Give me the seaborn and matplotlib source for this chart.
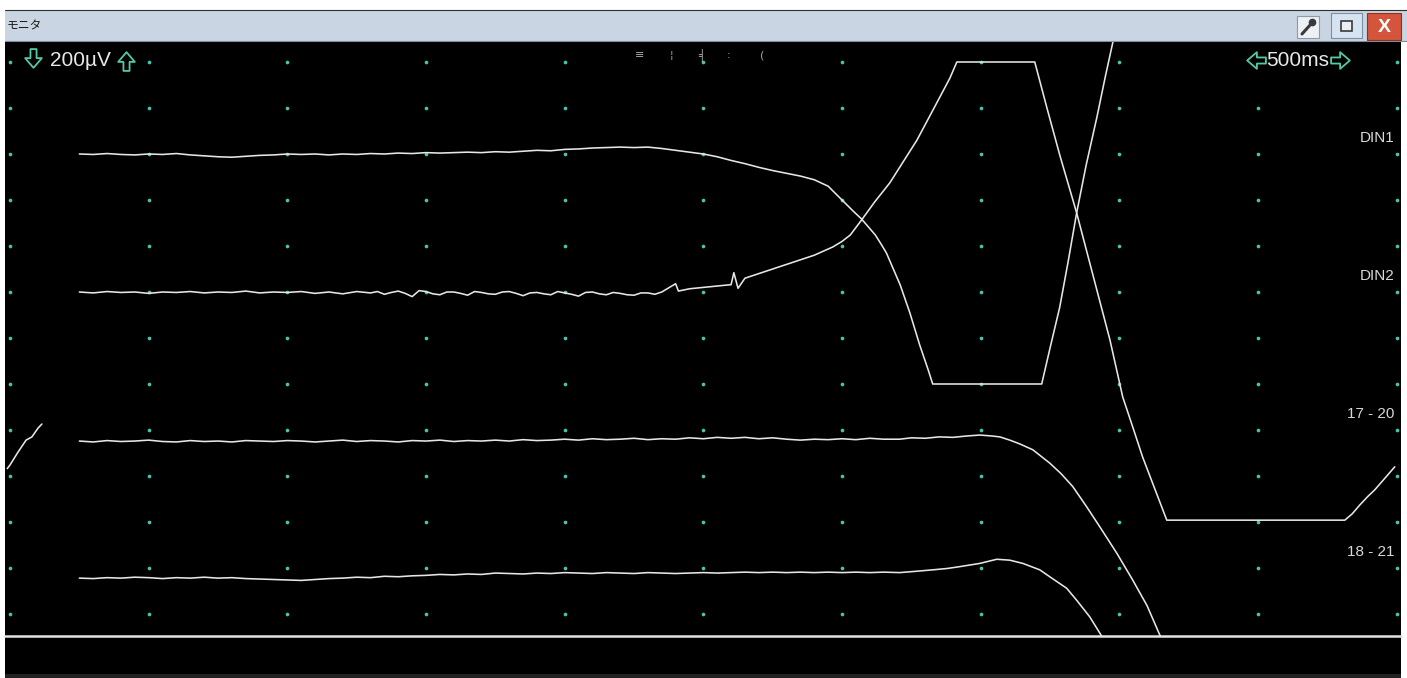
import numpy as np
import pandas as pd
import matplotlib
matplotlib.use("Agg")
import matplotlib.pyplot as plt
import seaborn as sns
from matplotlib.patches import Rectangle
from matplotlib.lines import Line2D
from matplotlib.path import Path

# Monitor traces: time in ms (500 ms/div), level in divisions
din1_t = [250, 300, 350, 400, 450, 500, 550, 600, 650, 700,
          750, 800, 850, 900, 950, 1000, 1050, 1100, 1150, 1200,
          1250, 1300, 1350, 1400, 1450, 1500, 1550, 1600, 1650, 1700,
          1750, 1800, 1850, 1900, 1950, 2000, 2050, 2100, 2150, 2200,
          2250, 2300, 2350, 2400, 2450, 2500, 2550, 2600, 2650, 2700,
          2750, 2800, 2850, 2900, 2950, 3000,
          3040, 3070, 3100, 3120, 3140, 3160, 3185, 3210, 3245, 3280, 3310, 3327,
          3400, 3500, 3600, 3720,
          3750, 3785, 3815, 3846, 3880, 3919, 3950, 3990]
din1_v = [10.00, 9.99, 10.01, 9.99, 9.98, 10.00, 9.99, 10.01, 9.98, 9.96,
          9.94, 9.93, 9.95, 9.97, 9.98, 10.00, 9.99, 10.00, 9.98, 10.00,
          9.99, 10.01, 10.00, 10.02, 10.01, 10.03, 10.02, 10.03, 10.04, 10.03,
          10.05, 10.04, 10.06, 10.08, 10.07, 10.10, 10.11, 10.13, 10.14, 10.15,
          10.14, 10.15, 10.12, 10.08, 10.04, 10.00, 9.94, 9.86, 9.79, 9.71,
          9.64, 9.58, 9.52, 9.44, 9.30, 9.00,
          8.76, 8.59, 8.38, 8.24, 8.05, 7.85, 7.50, 7.15, 6.54, 5.85, 5.32, 5.00,
          5.00, 5.00, 5.00, 5.00,
          5.78, 6.67, 7.65, 8.72, 9.75, 10.80, 11.70, 12.80]

din2_t = [250, 300, 350, 400, 450, 500, 550, 600, 650, 700,
          750, 800, 850, 900, 950, 1000, 1050, 1100, 1150, 1200,
          1250,
          1300, 1325, 1350, 1375, 1400, 1425, 1450, 1475, 1500, 1525,
          1550, 1575, 1600, 1625, 1650, 1675, 1700, 1725, 1750, 1775,
          1800, 1825, 1850, 1875, 1900, 1925, 1950, 1975, 2000, 2025,
          2050, 2075, 2100, 2125, 2150, 2175, 2200, 2225, 2250, 2275,
          2300, 2325, 2350,
          2400, 2410, 2450, 2500, 2550, 2600, 2610, 2625, 2650, 2700,
          2750, 2800, 2850, 2900, 2967, 3000, 3030, 3071, 3118, 3172,
          3270, 3353, 3389, 3414, 3695, 3738, 3785, 3846, 3919, 3966,
          4012, 4048, 4084, 4171, 4813, 4840, 4867, 4895, 4921, 4960,
          4993]
din2_v = [7.00, 6.98, 7.01, 6.99, 7.00, 6.97, 7.00, 6.99, 7.01, 6.98,
          7.00, 6.99, 7.02, 6.98, 7.00, 6.99, 7.01, 6.97, 7.00, 6.96,
          7.01,
          6.98, 7.01, 6.95, 6.99, 7.02, 6.97, 6.90, 7.03, 7.01, 6.96,
          6.94, 7.00, 7.00, 6.97, 6.93, 7.01, 6.99, 6.96, 6.95, 7.00,
          7.01, 6.97, 6.92, 6.98, 6.99, 6.96, 6.94, 7.01, 6.98, 6.95,
          6.91, 6.99, 7.00, 6.96, 6.94, 6.99, 6.97, 6.94, 6.93, 6.98,
          6.98, 6.95, 7.00,
          7.18, 7.02, 7.07, 7.10, 7.13, 7.16, 7.42, 7.08, 7.30, 7.40,
          7.50, 7.60, 7.70, 7.80, 7.98, 8.10, 8.24, 8.57, 8.96, 9.37,
          10.30, 11.24, 11.65, 12.00, 12.00, 11.02, 9.98, 8.72, 7.04, 5.96,
          4.72, 4.07, 3.41, 2.04, 2.04, 2.18, 2.37, 2.55, 2.70, 2.97,
          3.20]

ch1720_t = [250, 300, 350, 400, 450, 500, 550, 600, 650, 700,
            750, 800, 850, 900, 950, 1000, 1050, 1100, 1150, 1200,
            1250, 1300, 1350, 1400, 1450, 1500, 1550, 1600, 1650, 1700,
            1750, 1800, 1850, 1900, 1950, 2000, 2050, 2100, 2150, 2200,
            2250, 2300, 2350, 2400, 2450, 2500, 2550, 2600, 2650, 2700,
            2750, 2800, 2850, 2900, 2950, 3000, 3050, 3100, 3150,
            3208, 3250, 3300, 3350, 3400, 3450, 3497, 3540, 3569, 3605,
            3640, 3688, 3749, 3790, 3832, 3880, 3929, 3991, 4048, 4100,
            4146, 4170]
ch1720_v = [3.76, 3.74, 3.77, 3.75, 3.76, 3.78, 3.75, 3.74, 3.77, 3.75,
            3.76, 3.74, 3.77, 3.76, 3.75, 3.77, 3.76, 3.74, 3.76, 3.78,
            3.75, 3.77, 3.76, 3.74, 3.77, 3.76, 3.78, 3.75, 3.77, 3.76,
            3.78, 3.76, 3.79, 3.77, 3.78, 3.80, 3.78, 3.81, 3.79, 3.80,
            3.82, 3.79, 3.81, 3.80, 3.83, 3.81, 3.84, 3.82, 3.84, 3.81,
            3.83, 3.80, 3.78, 3.80, 3.79, 3.81, 3.79, 3.82, 3.80,
            3.80, 3.83, 3.82, 3.85, 3.84, 3.87, 3.89, 3.87, 3.85, 3.78,
            3.70, 3.57, 3.28, 3.05, 2.77, 2.35, 1.90, 1.32, 0.74, 0.18,
            -0.46, -0.75]

ch1821_t = [250, 300, 350, 400, 450, 500, 550, 600, 650, 700,
            750, 800, 850, 900, 950, 1000, 1050, 1100, 1150, 1200,
            1250, 1300, 1350, 1400, 1450, 1500, 1550, 1600, 1650, 1700,
            1750, 1800, 1850, 1900, 1950, 2000, 2050, 2100, 2150, 2200,
            2250, 2300, 2350, 2400, 2450, 2500, 2550, 2600, 2650, 2700,
            2750, 2800, 2850, 2900, 2950, 3000, 3050, 3100, 3150,
            3208, 3270, 3327, 3380, 3425, 3497, 3558, 3605, 3652, 3713,
            3749, 3810, 3846, 3893, 3929, 3958]
ch1821_v = [0.78, 0.77, 0.79, 0.78, 0.80, 0.79, 0.77, 0.79, 0.78, 0.80,
            0.78, 0.79, 0.77, 0.76, 0.75, 0.74, 0.73, 0.75, 0.77, 0.78,
            0.80, 0.79, 0.82, 0.81, 0.83, 0.84, 0.86, 0.85, 0.87, 0.86,
            0.89, 0.88, 0.87, 0.89, 0.88, 0.90, 0.89, 0.88, 0.90, 0.89,
            0.88, 0.90, 0.89, 0.88, 0.89, 0.90, 0.89, 0.90, 0.91, 0.90,
            0.91, 0.90, 0.91, 0.90, 0.91, 0.90, 0.91, 0.90, 0.91,
            0.90, 0.93, 0.96, 0.99, 1.03, 1.10, 1.19, 1.17, 1.10, 0.96,
            0.81, 0.56, 0.30, -0.06, -0.41, -0.70]

# short piece wrapped round at the left edge
wrap_t = [-10, 0, 29, 58, 79, 101, 115]
wrap_v = [3.16, 3.24, 3.52, 3.78, 3.85, 4.04, 4.13]

channel_names = ["DIN1", "DIN2", "17 - 20", "18 - 21"]
channel_label_levels = [10.35, 7.35, 4.35, 1.35]

volt_scale = "200µV"
time_scale = "500ms"
window_title = "モニタ"

# long table for seaborn
frames = []
for name, t, v in [("DIN1", din1_t, din1_v), ("DIN2", din2_t, din2_v),
                   ("17 - 20", ch1720_t, ch1720_v), ("18 - 21", ch1821_t, ch1821_v),
                   ("wrap", wrap_t, wrap_v)]:
    frames.append(pd.DataFrame({"t": t, "v": v, "trace": name}))
traces = pd.concat(frames, ignore_index=True)

# dotted graticule: 10 x 12 divisions
gx, gy = np.meshgrid(np.arange(0, 5001, 500), np.arange(0, 13))
grid = pd.DataFrame({"t": gx.ravel(), "v": gy.ravel()})

sns.set_style("dark")
plt.rcParams['font.family'] = ['Liberation Sans', 'DejaVu Sans']

W, H = 1407, 678
fig = plt.figure(figsize=(W / 100, H / 100), dpi=100, facecolor="white")


def fx(px):
    return px / W


def fy(py):
    return 1 - py / H


def box(x, y, w, h, **kw):
    r = Rectangle((fx(x), fy(y + h)), w / W, h / H, transform=fig.transFigure, **kw)
    fig.add_artist(r)
    return r


# hollow arrow outline (pointing down), rotated for the other buttons
arrow_pts = np.array([(-0.22, 0.75), (0.22, 0.75), (0.22, 0.1), (0.6, 0.1),
                      (0.0, -0.6), (-0.6, 0.1), (-0.22, 0.1), (-0.22, 0.75)])


def arrow(px, py, angle):
    a = np.deg2rad(angle)
    rot = np.array([[np.cos(a), -np.sin(a)], [np.sin(a), np.cos(a)]])
    path = Path(arrow_pts @ rot.T, closed=True)
    fig.add_artist(Line2D([fx(px)], [fy(py)], marker=path, ms=15, mfc="none",
                          mec="#55c8a8", mew=1.3, linestyle="none"))


# window frame
box(5, 42, 1396, 632, facecolor="black", edgecolor="none", zorder=-2)
box(5, 674, 1396, 4, facecolor="#222222", edgecolor="none", zorder=-2)
box(5, 10, 1402, 32, facecolor="#c9d5e2", edgecolor="none")
fig.add_artist(Line2D([fx(5), 1], [fy(10), fy(10)], color="#303030", lw=0.8))
fig.add_artist(Line2D([fx(5), 1], [fy(41), fy(41)], color="#7f8c99", lw=0.8))
fig.text(fx(7), fy(26), window_title, family=['Noto Sans CJK JP'], fontsize=8.5,
         color="#1a1a1a", va="center", ha="left")

# title bar buttons
box(1297, 16, 22, 22, facecolor="#eef1f4", edgecolor="#8e9aa6", lw=0.8)
fig.add_artist(Line2D([fx(1302), fx(1311)], [fy(34), fy(24)], color="#3a3a3a", lw=2.2))
fig.add_artist(Line2D([fx(1312)], [fy(22)], marker="o", ms=4.5, color="#3a3a3a"))
box(1331, 13, 31, 25, facecolor="#d6e3f0", edgecolor="#7d8fa3", lw=0.8)
box(1341, 21, 11, 10, facecolor="#e9eff5", edgecolor="#3a3a3a", lw=1.2)
box(1367, 13, 34, 27, facecolor="#d4553c", edgecolor="#8a3020", lw=0.8)
fig.text(fx(1384), fy(27), "X", color="white", fontsize=14, fontweight="bold",
         ha="center", va="center")

# scope area
ax = fig.add_axes([fx(5), fy(636), (1401 - 5) / W, (636 - 42) / H])
ax.set_facecolor("black")
ms_per_px = 500 / 138.67
ax.set_xlim((5 - 10) * ms_per_px, (1401 - 10) * ms_per_px)
ax.set_ylim((614 - 636) / 46, (614 - 42) / 46)

sns.scatterplot(data=grid, x="t", y="v", color="#48c4b0", s=7, linewidth=0,
                ax=ax, legend=False, zorder=1)
sns.lineplot(data=traces, x="t", y="v", units="trace", estimator=None, sort=False,
             color="#e6e6e6", linewidth=1.15, ax=ax, legend=False, zorder=2)

ax.set_xticks([])
ax.set_yticks([])
ax.set_xlabel("")
ax.set_ylabel("")
for s in ax.spines.values():
    s.set_visible(False)
ax.spines["bottom"].set_visible(True)
ax.spines["bottom"].set_color("#e4e4e4")
ax.spines["bottom"].set_linewidth(1.8)

for name, lvl in zip(channel_names, channel_label_levels):
    ax.text(4993, lvl, name, color="#d8d8d8", fontsize=11, ha="right", va="center")

# scale readouts
box(1244, 50, 104, 20, facecolor="black", edgecolor="none", zorder=2)
arrow(33, 59, 0)
fig.text(fx(50), fy(60), volt_scale, color="#e8e8e8", fontsize=15, ha="left", va="center")
arrow(126, 60, 180)
arrow(1255, 60, -90)
fig.text(fx(1266), fy(60), time_scale, color="#e8e8e8", fontsize=15, ha="left", va="center")
arrow(1341, 60, 90)

# faint status glyphs in the middle of the top line
for px, ch in [(640, "≡"), (671, "¦"), (702, "╡"), (729, ":"), (762, "(")]:
    fig.text(fx(px), fy(55), ch, family=['DejaVu Sans'], color="#a8a8a8", fontsize=8,
             ha="center", va="center")

fig.savefig("out.png", dpi=100, facecolor="white")
